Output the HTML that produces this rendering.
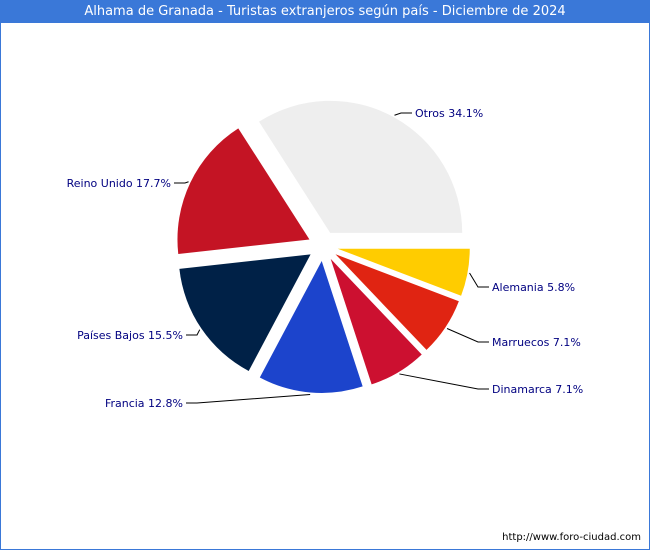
<!DOCTYPE html>
<html><head><meta charset="utf-8"><style>
body{margin:0;background:#fff}
#wrap{position:relative;width:648px;height:548px;border:1px solid #3a78d8;background:#fff;font-family:"DejaVu Sans","Liberation Sans",sans-serif}
#title{position:absolute;left:0;top:0;width:648px;height:22px;background:#3a78d8;color:#fff;font-size:13px;line-height:22px;text-align:center}
#url{position:absolute;right:8px;bottom:6px;font-size:10px;color:#000}
svg{position:absolute;left:0;top:0}
</style></head><body>
<div id="wrap">
<div id="title">Alhama de Granada - Turistas extranjeros según país - Diciembre de 2024</div>
<svg id="pie" width="648" height="548"></svg>
<div id="url">http://www.foro-ciudad.com</div>
</div>
<script>
const categories=["Otros","Reino Unido","Países Bajos","Francia","Dinamarca","Marruecos","Alemania"];
const values=[34.1,17.7,15.5,12.8,7.1,7.1,5.8];
const colors=["#eeeeee","#c41424","#002147","#1c44cc","#cc1030","#e02412","#ffcc00"];
const labelPos=[[414,112,"start"],[170,182,"end"],[182,334,"end"],[182,402,"end"],[491,388,"start"],[491,341,"start"],[491,286,"start"]];
const cx=322,cy=245,r=132,ex=15;
const svg=document.getElementById('pie');const NS="http://www.w3.org/2000/svg";
const total=values.reduce((a,b)=>a+b,0);
let a0=0;
values.forEach((v,i)=>{
 const a1=a0+v/total*2*Math.PI, am=(a0+a1)/2;
 const vx=cx+ex*Math.cos(am), vy=cy-ex*Math.sin(am);
 const p0=[vx+r*Math.cos(a0),vy-r*Math.sin(a0)],p1=[vx+r*Math.cos(a1),vy-r*Math.sin(a1)];
 const large=(a1-a0)>Math.PI?1:0;
 const path=document.createElementNS(NS,'path');
 path.setAttribute('d',`M${vx},${vy}L${p0[0]},${p0[1]}A${r},${r} 0 ${large} 0 ${p1[0]},${p1[1]}Z`);
 path.setAttribute('fill',colors[i]);
 
 
 svg.appendChild(path);
 const e=[vx+(r+2)*Math.cos(am),vy-(r+2)*Math.sin(am)];
 const [lx,ly,anc]=labelPos[i];
 const kx=anc==="start"?lx-14:lx+14;
 const line=document.createElementNS(NS,'polyline');
 line.setAttribute('points',`${e[0]},${e[1]} ${kx},${ly} ${anc==="start"?lx-3:lx+3},${ly}`);
 line.setAttribute('fill','none');line.setAttribute('stroke','#000');line.setAttribute('stroke-width','1');
 
 
 svg.appendChild(line);
 const t=document.createElementNS(NS,'text');
 t.setAttribute('x',lx);t.setAttribute('y',ly+4);t.setAttribute('text-anchor',anc);
 t.setAttribute('font-size','11');t.setAttribute('fill','#000080');
 t.textContent=categories[i]+' '+v.toFixed(1)+'%';
 
 
 svg.appendChild(t);
 a0=a1;
});
</script>
</body></html>
